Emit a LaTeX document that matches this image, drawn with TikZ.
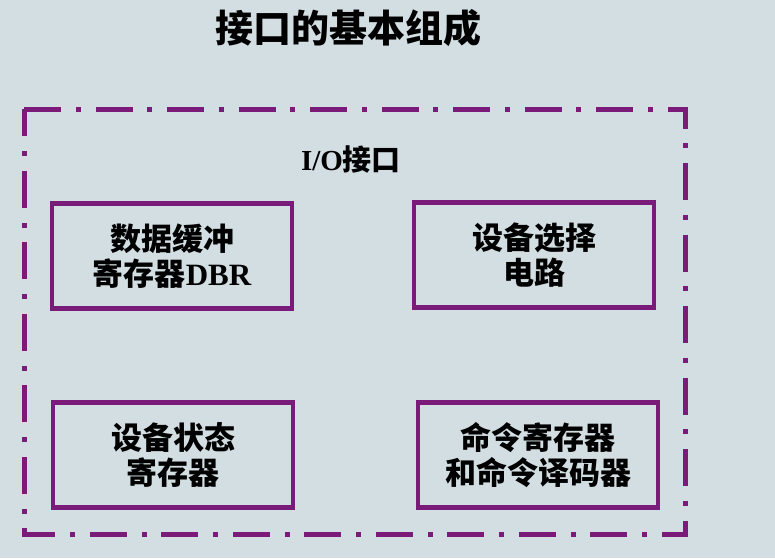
\documentclass[tikz,border=0pt]{standalone}
\usepackage{fontspec}
\newfontfamily\cjkb{Noto Sans CJK SC Bold}
\newfontfamily\cjkk{Noto Sans CJK SC Black}
\newfontfamily\latb{Liberation Serif Bold}
\definecolor{pur}{RGB}{122,27,121}
\definecolor{bgc}{RGB}{210,222,226}
\begin{document}
\begin{tikzpicture}[x=1pt,y=-1pt,
  inbox/.style={draw=pur,line width=4.5pt,minimum width=240pt,minimum height=105pt,
    align=center,inner sep=0pt,text=black,font=\cjkk\fontsize{31}{35}\selectfont},
  outer/.style={draw=pur,line width=5pt,dash pattern=on 37pt off 14.5pt on 5pt off 15pt}
]
\fill[bgc] (0,0) rectangle (775,558);
\useasboundingbox (0,0) rectangle (775,558);
\node[font=\cjkk\fontsize{38}{42}\selectfont] (title) at (348,28) {接口的基本组成};
\coordinate (tl) at (24,109);
\coordinate (tr) at (685,109);
\coordinate (br) at (685,534);
\coordinate (bl) at (24,534);
\draw[outer] (tl) -- (tr) -- (br) -- (bl) -- cycle;
\node[font=\fontsize{29}{32}\selectfont] (io) at (351,160) {{\latb I/O}{\cjkk 接口}};
\node[inbox] (dbr) at (172,256) {数据缓冲\\寄存器{\latb DBR}};
\node[inbox] (sel) at (534,255) {设备选择\\电路};
\node[inbox] (stat) at (173,455) {设备状态\\寄存器};
\node[inbox] (cmd) at (538,455) {命令寄存器\\和命令译码器};
\end{tikzpicture}
\end{document}
